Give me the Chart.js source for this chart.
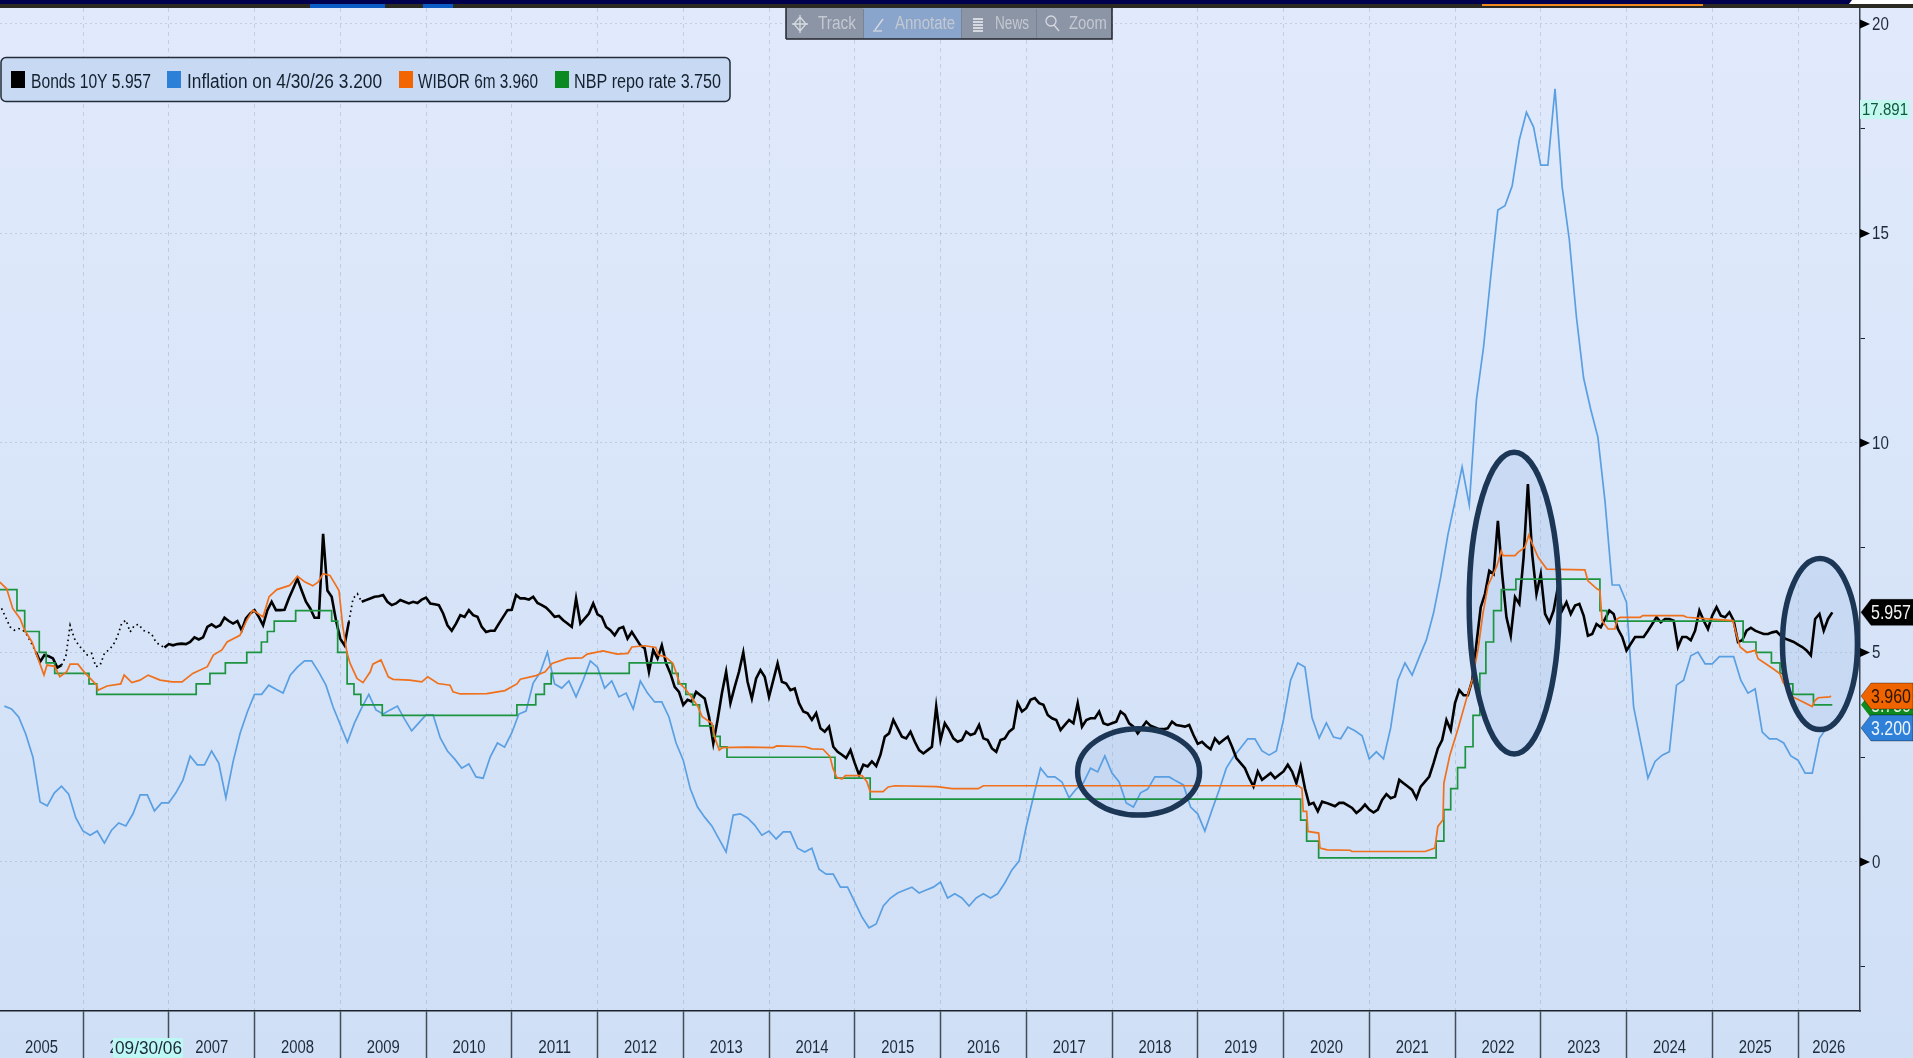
<!DOCTYPE html>
<html><head><meta charset="utf-8">
<style>html,body{margin:0;padding:0;overflow:hidden;background:#dbe7fa}canvas{display:block;filter:blur(.4px)}</style>
<script src="https://cdn.jsdelivr.net/npm/chart.js@4/dist/chart.umd.min.js"></script>
</head><body>
<canvas id="c" width="1913" height="1058"></canvas>
<script>
const seriesLabels=["Bonds 10Y 5.957","Inflation on 4/30/26 3.200","WIBOR 6m 3.960","NBP repo rate 3.750"];
const yearLabels=[2005,2006,2007,2008,2009,2010,2011,2012,2013,2014,2015,2016,2017,2018,2019,2020,2021,2022,2023,2024,2025,2026];
const yTickValues=[-2.5,0,2.5,5,7.5,10,12.5,15,17.5,20];

// Bonds 10Y: one reading every 1/20 year from 2005.05
const bondsStart=2005.05, bondsStep=1/20;
const bondsValues=[6.05,5.83,5.61,5.53,5.57,5.53,5.41,5.21,5.02,4.78,4.94,4.91,4.86,4.64,4.7,4.91,5.65,5.33,5.17,5.06,
4.94,4.98,4.66,4.7,4.98,5.06,5.17,5.37,5.69,5.77,5.49,5.65,5.67,5.53,5.49,5.44,5.25,5.17,5.12,5.2,
5.17,5.2,5.21,5.2,5.25,5.36,5.31,5.36,5.61,5.67,5.6,5.65,5.83,5.75,5.69,5.75,5.53,5.81,5.93,6.01,
5.85,5.65,6.01,6.21,6.01,6.01,6.02,6.29,6.52,6.76,6.48,6.21,6.05,5.83,5.83,7.83,6.48,6.33,5.77,5.33,
5.17,5.73,6.29,6.4,6.21,6.25,6.29,6.33,6.34,6.37,6.21,6.13,6.17,6.25,6.21,6.17,6.21,6.18,6.26,6.31,
6.17,6.15,6.13,5.93,5.65,5.52,5.69,5.89,5.85,6.01,5.89,5.85,5.61,5.49,5.52,5.52,5.69,5.85,6.01,6.02,
6.37,6.29,6.29,6.26,6.33,6.18,6.13,6.07,5.97,5.85,5.87,5.77,5.69,5.61,6.29,5.69,5.81,5.93,6.17,5.91,
5.85,5.61,5.53,5.41,5.57,5.61,5.33,5.49,5.33,5.17,5.1,4.54,5.06,4.86,5.17,4.74,4.5,4.18,4.06,3.75,
3.87,3.83,4.06,3.98,3.9,3.47,2.83,3.39,4.02,4.54,3.79,4.18,4.54,5.0,4.3,3.9,4.38,4.58,4.42,3.94,
4.34,4.74,4.3,4.26,4.1,4.14,3.79,3.59,3.55,3.39,3.55,3.19,3.11,3.23,2.75,2.63,2.56,2.48,2.67,2.36,
2.08,2.32,2.28,2.4,2.29,2.56,2.99,3.07,3.39,3.19,2.99,2.95,3.11,2.87,2.67,2.59,2.67,2.75,3.71,2.91,
3.31,3.15,2.95,2.87,2.91,3.11,3.03,3.07,3.27,2.95,2.91,2.71,2.63,2.91,2.95,3.11,3.19,3.79,3.59,3.67,
3.87,3.91,3.79,3.75,3.51,3.43,3.39,3.15,3.27,3.39,3.31,3.79,3.23,3.39,3.43,3.43,3.59,3.31,3.27,3.31,
3.35,3.59,3.51,3.31,3.23,3.07,3.21,3.35,3.25,3.21,3.17,3.17,3.19,3.35,3.27,3.25,3.23,3.27,3.03,2.82,
2.87,2.77,2.69,2.95,2.83,2.91,2.99,2.75,2.48,2.36,2.24,2.0,1.8,2.16,1.96,2.04,2.12,2.0,2.08,2.16,
2.32,2.16,1.88,2.28,1.76,1.37,1.41,1.21,1.44,1.41,1.37,1.33,1.41,1.41,1.35,1.29,1.17,1.25,1.37,1.25,
1.18,1.25,1.48,1.62,1.52,1.56,1.96,1.88,1.8,1.72,1.52,1.8,1.92,2.04,2.36,2.71,2.91,3.39,3.15,3.79,
4.1,3.98,3.98,4.33,5.21,6.08,6.4,6.95,6.87,8.14,6.87,5.84,5.4,6.32,6.16,7.27,9.02,7.35,6.4,6.87,
5.92,5.72,6.0,6.56,6.0,6.2,5.92,6.12,6.16,5.88,5.4,5.44,5.68,5.6,5.8,6.0,5.92,5.56,5.37,5.05,
5.21,5.37,5.37,5.37,5.52,5.68,5.84,5.72,5.8,5.8,5.76,5.13,5.37,5.37,5.29,5.52,6.0,5.76,5.56,5.88,
6.08,5.88,5.84,5.96,5.76,5.25,5.29,5.52,5.59,5.52,5.48,5.44,5.44,5.48,5.5,5.4,5.33,5.29,5.25,5.19,
5.13,5.05,4.93,5.8,5.92,5.52,5.8,5.957];
const bondsDottedFrom=[2005.0,2005.75,2009.06];
const bondsDottedTo=[2005.43,2006.9,2009.22];

// Inflation: monthly readings from Jan 2005 (month end)
const inflationStart=2005.083, inflationStep=1/12;
const inflationValues=[3.72,3.65,3.46,3.05,2.5,1.43,1.34,1.65,1.81,1.62,1.05,0.74,0.64,0.74,0.45,0.76,0.93,0.86,1.15,1.6,
1.6,1.22,1.41,1.41,1.65,1.96,2.53,2.32,2.32,2.65,2.36,1.53,2.39,3.08,3.58,4.0,4.0,4.22,4.12,4.03,
4.46,4.65,4.8,4.8,4.53,4.22,3.7,3.28,2.86,3.32,3.68,4.0,3.63,3.53,3.63,3.72,3.41,3.13,3.32,3.51,
3.51,2.96,2.65,2.46,2.24,2.34,2.03,2.0,2.51,2.84,2.74,3.08,3.53,3.6,4.27,4.53,5.01,4.25,4.15,4.32,
3.94,4.34,4.8,4.65,4.15,4.32,3.94,4.03,3.65,4.32,4.03,3.82,3.82,3.46,2.84,2.43,1.74,1.31,1.07,0.86,
0.55,0.24,1.12,1.15,1.05,0.88,0.64,0.74,0.55,0.72,0.72,0.33,0.24,0.33,-0.17,-0.29,-0.29,-0.6,-0.6,-0.95,
-1.31,-1.57,-1.48,-1.05,-0.86,-0.74,-0.67,-0.6,-0.74,-0.67,-0.6,-0.48,-0.86,-0.76,-0.86,-1.05,-0.86,-0.76,-0.86,-0.76,
-0.5,-0.19,0.02,0.84,1.55,2.24,2.03,2.03,1.91,1.53,1.74,1.89,2.24,2.15,2.53,2.12,1.91,1.41,1.31,1.65,
1.74,2.03,2.03,2.03,1.93,1.84,1.31,1.15,0.74,1.24,1.72,2.24,2.51,2.72,2.94,2.94,2.65,2.55,2.65,3.39,
4.34,4.75,4.65,3.44,2.96,3.32,2.98,2.94,3.22,3.13,3.01,2.46,2.63,2.46,3.2,4.34,4.75,4.46,4.89,5.3,
5.94,6.8,7.8,8.6,9.43,8.52,11.03,12.29,13.96,15.56,15.66,16.13,17.23,17.891,17.54,16.63,16.63,18.45,16.11,14.85,
13.0,11.55,10.8,10.14,8.6,6.61,6.61,6.2,3.7,2.85,2.0,2.4,2.55,2.63,4.22,4.34,4.92,5.01,4.73,4.73,
4.9,4.9,4.9,4.34,4.03,4.13,3.1,2.94,2.94,2.84,2.53,2.43,2.12,2.12,2.95,3.2];

const wiborDates=[2005.03,2005.11,2005.18,2005.265,2005.32,2005.405,2005.475,2005.545,2005.58,2005.67,2005.73,2005.81,2005.85,2005.94,2006.02,2006.16,2006.175,2006.28,2006.44,2006.48,
2006.57,2006.665,2006.76,2006.9,2007.04,2007.155,2007.28,2007.45,2007.52,2007.62,2007.68,2007.83,2007.91,2007.98,2008.1,2008.17,2008.26,2008.41,2008.5,2008.59,
2008.68,2008.74,2008.8,2008.88,2008.985,2009.03,2009.08,2009.115,2009.195,2009.265,2009.35,2009.38,2009.475,2009.56,2009.615,2009.81,2009.95,2010.02,2010.14,2010.28,
2010.315,2010.4,2010.71,2010.92,2011.06,2011.1,2011.27,2011.39,2011.47,2011.645,2011.82,2011.88,2012.065,2012.23,2012.355,2012.4,2012.555,2012.68,2012.71,2012.79,
2012.88,2012.96,2013.02,2013.08,2013.17,2013.22,2013.335,2013.37,2013.42,2013.46,2013.74,2014.05,2014.09,2014.42,2014.5,2014.63,2014.71,2014.745,2014.79,2014.85,
2014.89,2015.085,2015.14,2015.18,2015.33,2015.39,2015.47,2015.96,2016.135,2016.44,2016.5,2020.17,2020.215,2020.23,2020.27,2020.285,2020.41,2020.425,2020.51,2020.775,
2020.8,2021.65,2021.765,2021.8,2021.86,2021.87,2021.94,2022.035,2022.14,2022.2,2022.27,2022.325,2022.385,2022.49,2022.54,2022.56,2022.7,2022.735,2022.815,2022.86,
2022.91,2022.97,2023.07,2023.515,2023.55,2023.655,2023.69,2023.715,2023.785,2023.865,2023.89,2023.925,2024.16,2024.19,2024.66,2024.705,2024.95,2025.24,2025.29,2025.325,
2025.405,2025.5,2025.535,2025.71,2025.79,2025.825,2025.94,2026.06,2026.165,2026.2,2026.235,2026.37,2026.385];
const wiborValues=[6.68,6.52,6.05,5.81,5.53,5.25,4.86,4.46,4.7,4.67,4.42,4.54,4.72,4.72,4.52,4.22,4.1,4.2,4.25,4.46,
4.28,4.34,4.46,4.34,4.3,4.3,4.5,4.66,4.94,5.06,5.25,5.41,5.77,6.01,5.85,6.33,6.5,6.6,6.82,6.68,
6.59,6.68,6.88,6.84,6.48,5.61,4.98,4.74,4.38,4.28,4.54,4.72,4.82,4.42,4.36,4.34,4.3,4.42,4.26,4.22,
4.06,4.01,4.02,4.09,4.25,4.36,4.44,4.54,4.74,4.86,4.87,4.96,5.04,4.96,4.98,5.13,5.16,5.12,4.94,4.9,
4.74,4.26,4.14,3.98,3.71,3.47,3.31,2.95,2.67,2.73,2.74,2.73,2.77,2.75,2.7,2.69,2.52,2.24,2.02,1.98,
2.06,2.06,1.92,1.68,1.68,1.79,1.82,1.8,1.75,1.75,1.82,1.82,1.76,1.21,1.21,0.73,0.69,0.33,0.29,0.28,
0.25,0.25,0.33,0.85,1.01,1.88,2.55,3.18,3.94,4.33,5.09,5.92,6.6,7.07,7.43,7.31,7.31,7.39,7.51,7.8,
7.55,7.27,6.99,6.97,6.71,6.52,6.48,5.76,5.56,5.56,5.8,5.84,5.84,5.88,5.88,5.84,5.8,5.76,5.37,5.13,
5.0,5.05,4.85,4.61,4.49,4.29,3.94,3.82,3.71,3.86,3.92,3.94,3.96];

// NBP repo rate: date of each decision and the new rate
const repoDates=[2005.03,2005.23,2005.32,2005.49,2005.57,2005.67,2006.07,2006.16,2007.32,2007.48,2007.66,2007.91,2008.08,2008.15,2008.23,2008.48,2008.9,2008.97,2009.08,2009.16,2009.24,2009.49,
2011.06,2011.28,2011.38,2011.46,2012.37,2012.87,2012.94,2013.03,2013.11,2013.19,2013.35,2013.43,2013.51,2014.77,2015.18,2020.2,2020.27,2020.41,2021.78,2021.87,
2021.95,2022.03,2022.12,2022.21,2022.29,2022.36,2022.45,2022.54,2022.71,2023.69,2023.77,2025.36,2025.51,2025.69,2025.79,2025.86,2025.94,2026.18,2026.4];
const repoValues=[6.5,6.0,5.5,5.0,4.75,4.5,4.25,4.0,4.25,4.5,4.75,5.0,5.25,5.5,5.75,6.0,5.75,5.0,4.25,4.0,3.75,3.5,
3.75,4.0,4.25,4.5,4.75,4.5,4.25,4.0,3.75,3.25,3.0,2.75,2.5,2.0,1.5,1.0,0.5,0.1,0.5,1.25,
1.75,2.25,2.75,3.5,4.5,5.25,6.0,6.5,6.75,6.0,5.75,5.25,5.0,4.75,4.5,4.25,4.0,3.75,3.75];

// Circled regions, in chart units: centre year, centre value, half width (years), half height (points)
const circleYears=[2018.31,2022.69,2026.256];
const circleValues=[2.15,6.18,5.2];
const circleHalfYears=[0.711,0.525,0.437];
const circleHalfValues=[1.03,3.6,2.04];

// Value tags on the right axis
const tagTexts=["3.750","5.957","3.960","3.200"];
const tagValues=[3.75,5.957,3.96,3.2];
const tagFills=["#0e8a1e","#000000","#f06400","#2f80d8"];
const tagInks=["#e8f5e8","#f4f4f4","#2b1500","#eef5ff"];

const FONT='"Liberation Sans",sans-serif';
const pts=(xs,ys)=>ys.map((y,i)=>({x:xs[i],y}));
const inDotted=x=>bondsDottedFrom.some((f,i)=>x>=f&&x<=bondsDottedTo[i]);
const circlePath=(c,x,y,i)=>{const yr=circleYears[i];
   const cx=x.getPixelForValue(yr),cy=y.getPixelForValue(circleValues[i]);
   const rx=x.getPixelForValue(yr+circleHalfYears[i])-cx,ry=cy-y.getPixelForValue(circleValues[i]+circleHalfValues[i]);
   c.beginPath();c.ellipse(cx,cy,rx,ry,0,0,Math.PI*2);};

const chrome={id:'chrome',
 beforeDraw(ch){const c=ch.ctx,W=ch.width,H=ch.height;
  const g=c.createLinearGradient(0,0,0,H);g.addColorStop(0,'#e1eafc');g.addColorStop(1,'#cfdff5');
  c.fillStyle=g;c.fillRect(0,0,W,H);},
 beforeDatasetsDraw(ch){const c=ch.ctx,x=ch.scales.x,y=ch.scales.y;
  c.save();circleYears.forEach((yr,i)=>{circlePath(c,x,y,i);c.fillStyle='rgba(150,182,226,0.22)';c.fill();});c.restore();},
 afterDatasetsDraw(ch){const c=ch.ctx,x=ch.scales.x,y=ch.scales.y;
  c.save();circleYears.forEach((yr,i)=>{circlePath(c,x,y,i);c.lineWidth=5.5;c.strokeStyle='#1c3656';c.stroke();});c.restore();},
 afterDraw(ch){const c=ch.ctx,W=ch.width,x=ch.scales.x,y=ch.scales.y;
  c.save();
  // axis tick labels from the scales' own ticks, condensed like the terminal font
  c.font='18px '+FONT;c.fillStyle='#1c2a3a';c.textBaseline='middle';c.textAlign='center';
  x.ticks.forEach(t=>{if(t.label){c.fillText(t.label,x.getPixelForValue(t.value),1048,33);}});
  c.textAlign='left';
  y.ticks.forEach(t=>{if(t.label){c.fillText(t.label,1872,y.getPixelForValue(t.value)+1,String(t.label).length*8.4);}});
  // top strip
  c.fillStyle='#00004f';c.fillRect(0,0,W,4);
  c.fillStyle='#2b2a22';c.fillRect(0,4,W,4);
  c.fillStyle='#0a5cc4';c.fillRect(310,4,75,4);c.fillRect(423,4,30,4);
  c.fillStyle='#f08a20';c.fillRect(1482,4,221,2);
  c.fillStyle='#ffffff';c.beginPath();c.moveTo(1849,4);c.lineTo(1852,0);c.lineTo(W,0);c.lineTo(W,4);c.fill();
  // toolbar
  c.fillStyle='#8c95a6';c.fillRect(786,8,326,31);
  c.fillStyle='#8aa5cc';c.fillRect(863,8,98,31);
  c.strokeStyle='#7a8394';c.lineWidth=1;
  [863,961,1036].forEach(v=>{c.beginPath();c.moveTo(v+.5,9);c.lineTo(v+.5,38);c.stroke();});
  c.strokeStyle='#20242c';c.lineWidth=1.5;
  c.beginPath();c.moveTo(786,39);c.lineTo(1112,39);c.lineTo(1112,8);c.stroke();
  c.beginPath();c.moveTo(786,8);c.lineTo(786,39);c.stroke();
  c.font='18px '+FONT;c.textBaseline='middle';c.textAlign='left';c.fillStyle='#c3c8d1';
  [['Track',818,38],['Annotate',895,60],['News',995,34],['Zoom',1069,38]].forEach(t=>c.fillText(t[0],t[1],24,t[2]));
  c.strokeStyle='#d6dae0';c.lineWidth=1.3;
  c.beginPath();c.moveTo(800,17);c.lineTo(806,24);c.lineTo(800,31);c.lineTo(794,24);c.closePath();c.moveTo(800,15);c.lineTo(800,33);c.moveTo(792,24);c.lineTo(808,24);c.stroke();
  c.beginPath();c.moveTo(875,30);c.lineTo(883,19);c.stroke();c.beginPath();c.moveTo(873,31);c.lineTo(882,31);c.stroke();
  c.fillStyle='#d6dae0';[18,21,24,27,30].forEach(v=>c.fillRect(973,v,10,2));
  c.beginPath();c.arc(1051,21,5,0,Math.PI*2);c.moveTo(1054,25);c.lineTo(1059,31);c.stroke();
  // legend
  c.beginPath();c.roundRect(1,57.5,729,44,5);c.fillStyle='#c7d9f3';c.fill();c.lineWidth=1.5;c.strokeStyle='#232c38';c.stroke();
  const lg=[[11,31,120,'#000000'],[167,187,195,'#2d80d8'],[399,418,120,'#f26500'],[555,574,147,'#0a8a20']];
  c.font='20px '+FONT;
  lg.forEach((l,i)=>{c.fillStyle=l[3];c.fillRect(l[0],71,14,17);
    c.fillStyle='#14202e';c.fillText(seriesLabels[i],l[1],82,l[2]);});
  // axis triangles at the labelled ticks
  c.fillStyle='#000';
  yTickValues.filter(v=>v>=0&&v%5===0).forEach(v=>{const py=y.getPixelForValue(v);
    c.beginPath();c.moveTo(1860,py-4.5);c.lineTo(1870,py);c.lineTo(1860,py+4.5);c.fill();});
  // value tags
  c.font='21px '+FONT;
  tagTexts.forEach((t,i)=>{const py=y.getPixelForValue(tagValues[i]);
    const top=py-13,bot=py+13;
    c.fillStyle=tagFills[i];c.beginPath();c.moveTo(1861,py);c.lineTo(1871,top);c.lineTo(1913,top);c.lineTo(1913,bot);c.lineTo(1871,bot);c.closePath();c.fill();
    if(i>0){c.strokeStyle='rgba(0,0,0,.35)';c.lineWidth=1;c.stroke();}
    c.fillStyle=tagInks[i];c.fillText(t,1871,py+1,40);});
  // crosshair read-outs
  c.font='17px '+FONT;
  c.fillStyle='#c2f8f0';c.fillRect(1860,100,49,19);
  c.fillStyle='#0c5a3c';c.fillText('17.891',1862,110,46);
  c.fillStyle='#bdf8f4';c.fillRect(113,1038,70,20);
  c.fillStyle='#1d2a38';c.font='18px '+FONT;c.fillText('09/30/06',115,1049,67);
  c.restore();}
};

new Chart(document.getElementById('c'),{
 type:'line',
 data:{datasets:[
  {label:seriesLabels[0],data:bondsValues.map((v,i)=>({x:bondsStart+i*bondsStep,y:v})),borderColor:'#000',borderWidth:2.6,pointRadius:0,tension:0,order:3,
   segment:{borderDash:ctx=>inDotted(ctx.p0.parsed.x)?[1.6,3.4]:undefined,borderWidth:ctx=>inDotted(ctx.p0.parsed.x)?1.7:undefined}},
  {label:seriesLabels[1],data:inflationValues.map((v,i)=>({x:inflationStart+i*inflationStep,y:v})),borderColor:'#5a9fe2',borderWidth:1.7,pointRadius:0,tension:0,order:4},
  {label:seriesLabels[2],data:pts(wiborDates,wiborValues),borderColor:'#f0701c',borderWidth:1.7,pointRadius:0,tension:0,order:1},
  {label:seriesLabels[3],data:pts(repoDates,repoValues),borderColor:'#1c9440',borderWidth:1.7,pointRadius:0,stepped:true,order:2}
 ]},
 options:{
  responsive:false,animation:false,devicePixelRatio:1,
  layout:{padding:{top:8,left:0,right:0,bottom:0}},
  plugins:{legend:{display:false},tooltip:{enabled:false}},
  scales:{
   x:{type:'linear',position:'bottom',min:2005.032,max:2026.723,
    afterBuildTicks(s){const t=[];
      yearLabels.forEach(yr=>{if(yr>2005)t.push({value:yr});
        t.push({value:yr===2005?2005.516:yr===2026?2026.36:yr+0.5});});
      s.ticks=t;},
    afterFit(s){s.height=47;s.paddingLeft=0;s.paddingRight=0;},
    ticks:{display:false,autoSkip:false,maxRotation:0,minRotation:0,
      callback:v=>Number.isInteger(v)?'':String(Math.floor(v))},
    grid:{tickLength:47,lineWidth:1,
      color:c=>Number.isInteger(c.tick&&c.tick.value)?'rgba(130,145,170,.32)':'rgba(0,0,0,0)',
      tickColor:c=>Number.isInteger(c.tick&&c.tick.value)?'#444c58':'rgba(0,0,0,0)',tickWidth:1.5,tickBorderDash:[]},
    border:{display:true,color:'#1c222c',width:1.5,dash:[4,4]}},
   y:{type:'linear',position:'right',min:-3.556,max:20.38,
    afterBuildTicks(s){s.ticks=yTickValues.map(v=>({value:v}));},
    afterFit(s){s.width=53;s.paddingTop=0;s.paddingBottom=0;},
    ticks:{display:false,autoSkip:false,callback:v=>v%5===0?String(v):''},
    grid:{tickLength:5,lineWidth:1,
      color:c=>(c.tick&&c.tick.value%5===0)?'rgba(130,145,170,.32)':'rgba(0,0,0,0)',
      tickColor:'#1c222c',tickWidth:1,tickBorderDash:[]},
    border:{display:true,color:'#3a424e',width:1.5,dash:[2,3]}}
  }},
 plugins:[chrome]
});
</script>
</body></html>
